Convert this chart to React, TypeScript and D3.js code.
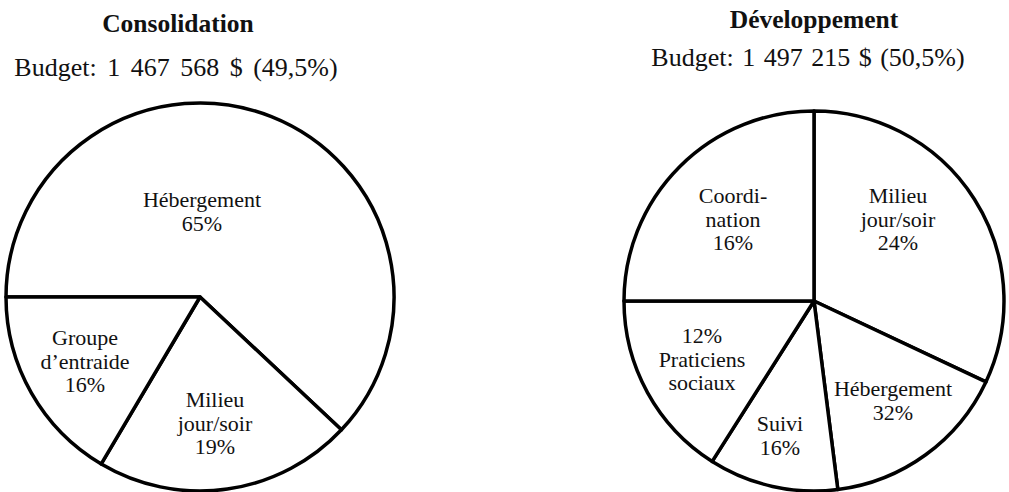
import React from "react";
import * as d3 from "d3";

// ---- Data ----
const leftTitle = "Consolidation";
const leftBudget = "Budget: 1 467 568 $ (49,5%)";
const leftCategories = ["Hébergement", "Milieu jour/soir", "Groupe d’entraide"];
const leftLabels = [["Hébergement", "65%"], ["Milieu", "jour/soir", "19%"], ["Groupe", "d’entraide", "16%"]];
// angular share of each drawn slice (in %)
const leftShares = [62, 21.5, 16.5];

const rightTitle = "Développement";
const rightBudget = "Budget: 1 497 215 $ (50,5%)";
const rightCategories = ["Milieu jour/soir", "Hébergement", "Suivi", "Praticiens sociaux", "Coordination"];
const rightLabels = [["Milieu", "jour/soir", "24%"], ["Hébergement", "32%"], ["Suivi", "16%"], ["12%", "Praticiens", "sociaux"], ["Coordi-", "nation", "16%"]];
const rightShares = [32, 16, 11, 16, 25];

// ---- Layout (positions / styles) ----
const W = 1009;
const H = 492;
const FONT = "'Liberation Serif', 'Times New Roman', serif";

const leftLayout = {
  cx: 200, cy: 297, r: 194, start: -90,
  titleX: 178, titleY: 32, budgetX: 176, budgetY: 76, wordSpacing: 4,
  labelOffsets: [[2, -90], [15, 110], [-115, 48]],
};
const rightLayout = {
  cx: 814, cy: 301, r: 190, start: 0,
  titleX: 814, titleY: 28, budgetX: 808, budgetY: 66, wordSpacing: 2,
  labelOffsets: [[84, -98], [79, 95], [-34, 130], [-112, 42], [-81, -98]],
};
const LINE_H = 23.5;

type Layout = typeof leftLayout;

function Pie({ title, budget, cats, labels, shares, L }: {
  title: string; budget: string; cats: string[]; labels: string[][]; shares: number[]; L: Layout;
}) {
  const data = cats.map((c, i) => ({ cat: c, share: shares[i] }));
  const pie = d3
    .pie<{ cat: string; share: number }>()
    .sort(null)
    .value((d) => d.share)
    .startAngle((L.start * Math.PI) / 180)
    .endAngle((L.start * Math.PI) / 180 + 2 * Math.PI);
  const arcs = pie(data);
  const arc = d3.arc<d3.PieArcDatum<{ cat: string; share: number }>>().innerRadius(0).outerRadius(L.r);

  return (
    <g>
      <text x={L.titleX} y={L.titleY} textAnchor="middle" fontFamily={FONT} fontWeight="bold" fontSize={25.5} fill="#111">
        {title}
      </text>
      <text x={L.budgetX} y={L.budgetY} textAnchor="middle" fontFamily={FONT} fontSize={26} fill="#111" style={{ wordSpacing: `${L.wordSpacing}px` }}>
        {budget}
      </text>
      <g transform={`translate(${L.cx},${L.cy})`}>
        {arcs.map((a, i) => (
          <path key={i} d={arc(a) || ""} fill="#fff" stroke="#000" strokeWidth={3.5} strokeLinejoin="round" />
        ))}
        {labels.map((lines, i) => (
          <text key={i} textAnchor="middle" fontFamily={FONT} fontSize={22} fill="#111">
            {lines.map((ln, j) => (
              <tspan key={j} x={L.labelOffsets[i][0]} y={L.labelOffsets[i][1] + j * LINE_H}>
                {ln}
              </tspan>
            ))}
          </text>
        ))}
      </g>
    </g>
  );
}

export default function App() {
  return (
    <svg width={W} height={H} style={{ position: "absolute", left: 0, top: 0, background: "#fff" }}>
      <rect width={W} height={H} fill="#fff" />
      <Pie title={leftTitle} budget={leftBudget} cats={leftCategories} labels={leftLabels} shares={leftShares} L={leftLayout} />
      <Pie title={rightTitle} budget={rightBudget} cats={rightCategories} labels={rightLabels} shares={rightShares} L={rightLayout} />
    </svg>
  );
}
